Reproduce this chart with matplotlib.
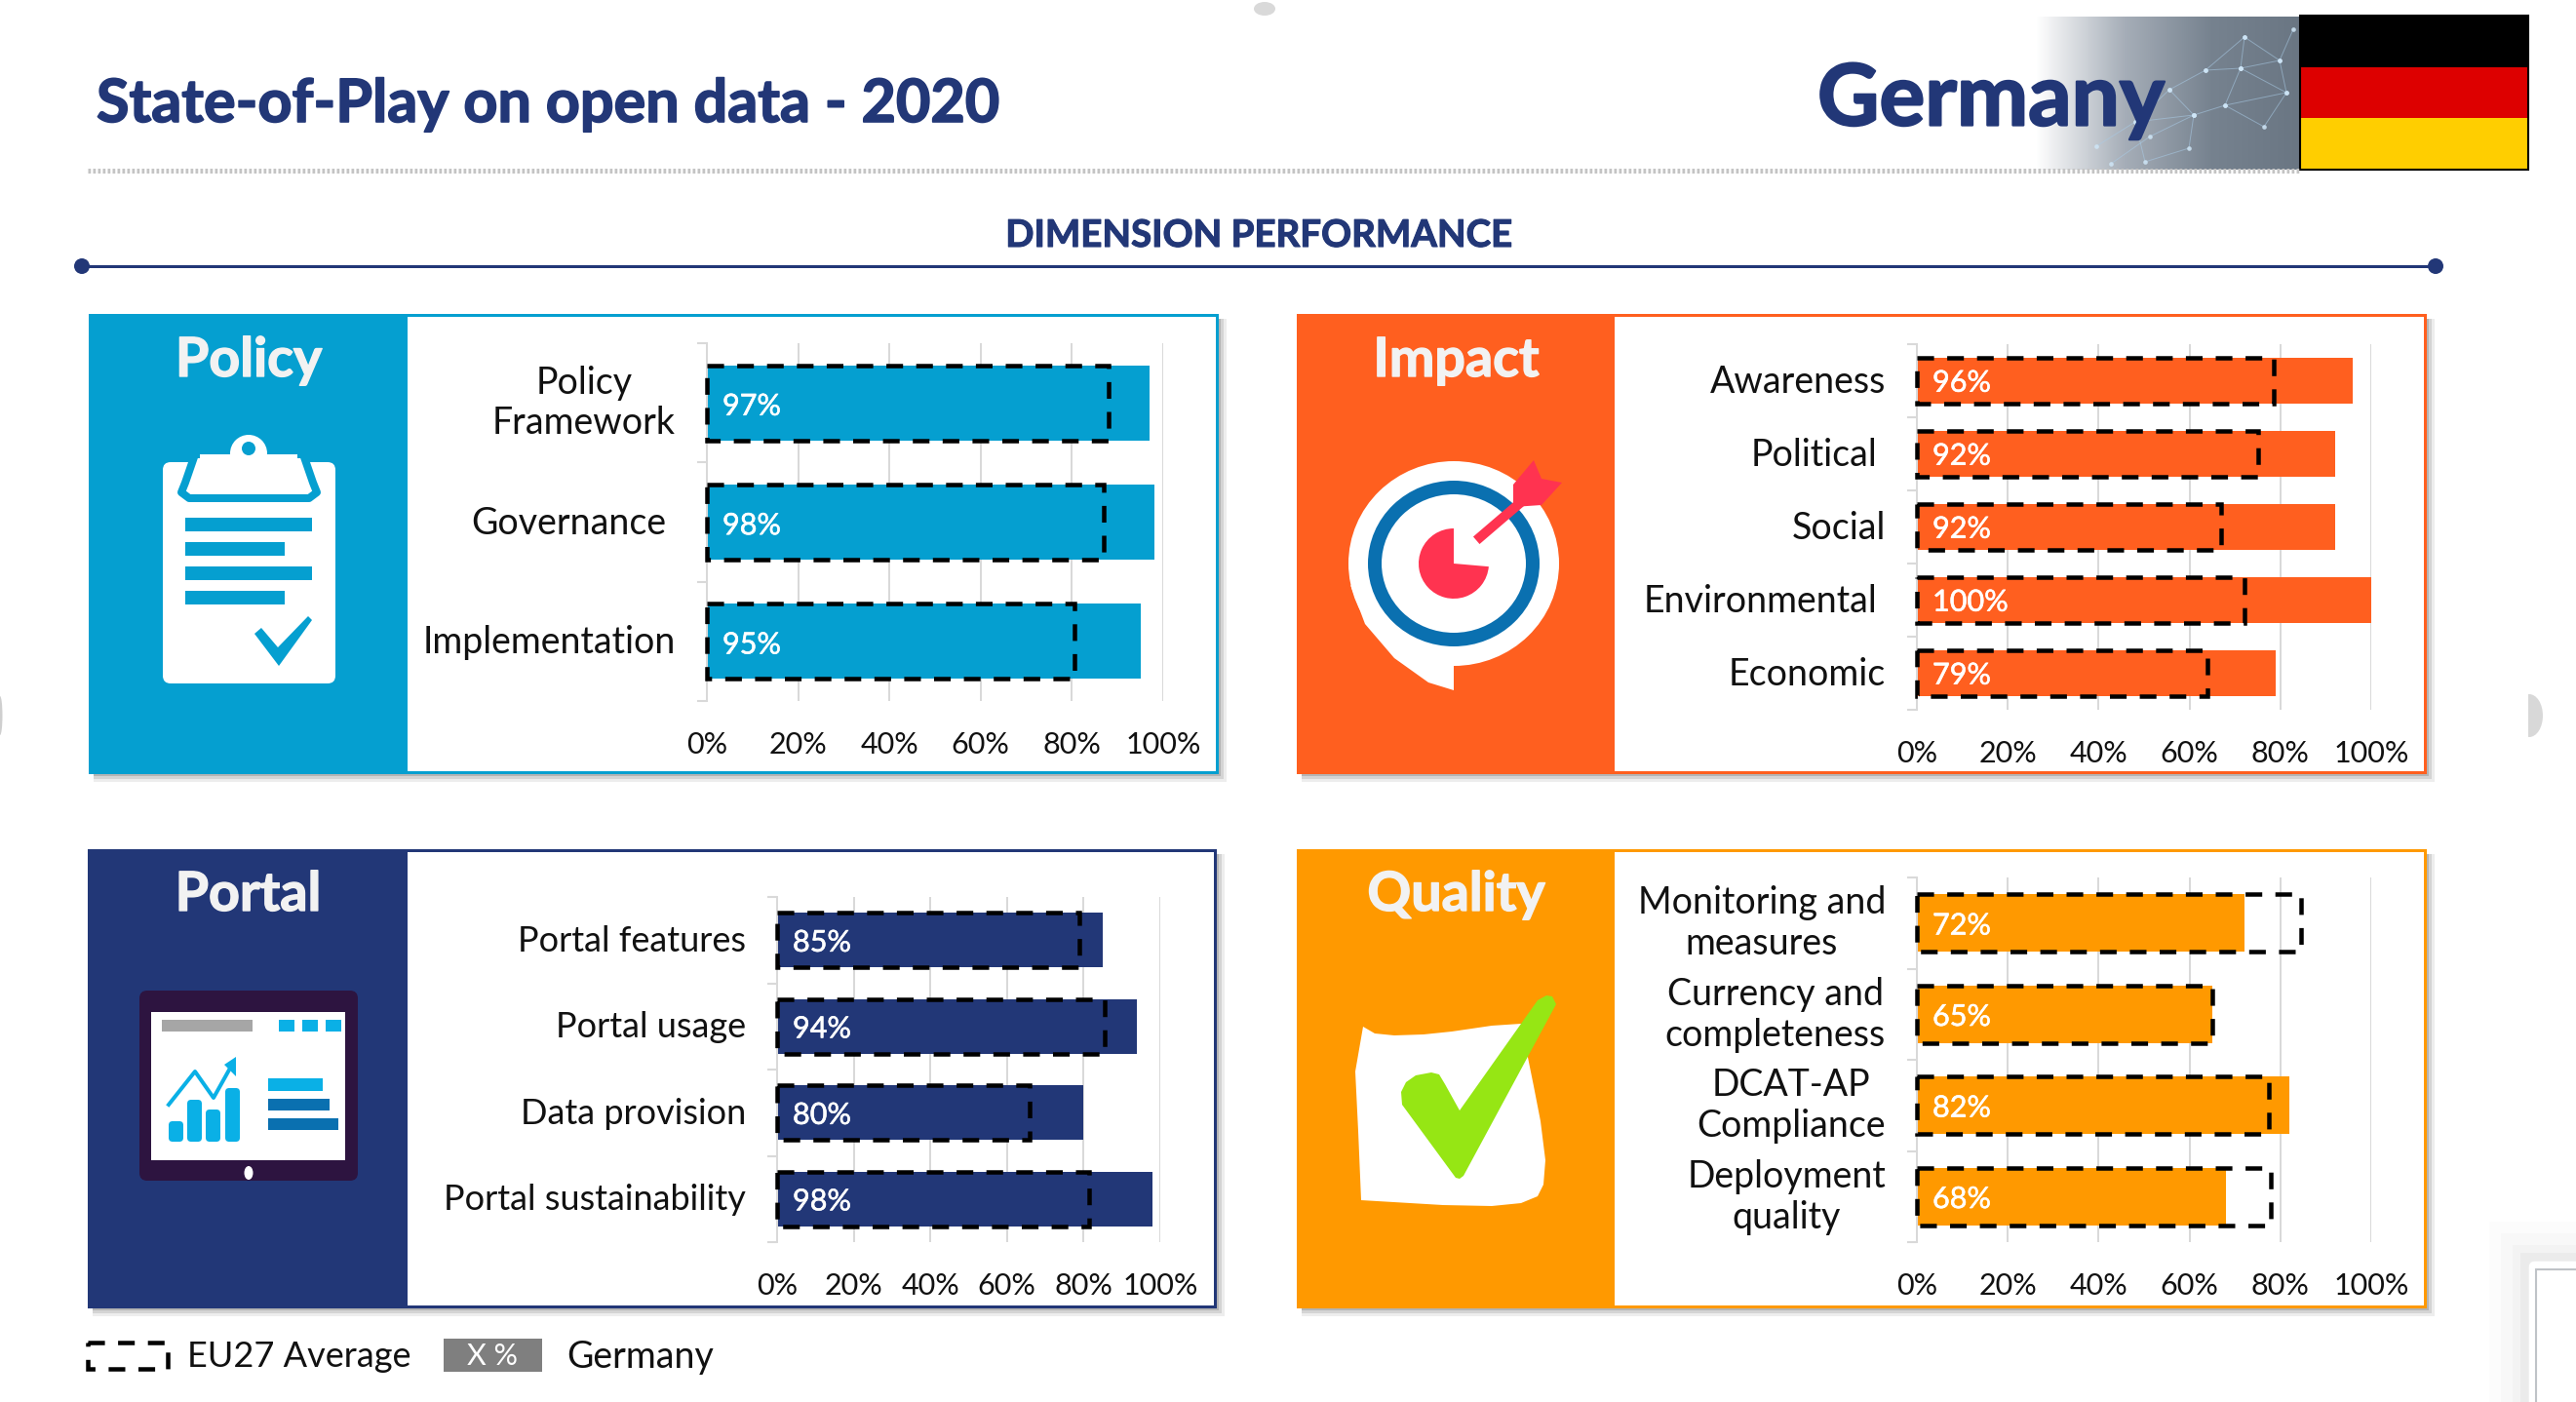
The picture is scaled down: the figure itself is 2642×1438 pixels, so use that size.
import numpy as np
import matplotlib
matplotlib.use('Agg')
import matplotlib.pyplot as plt
import matplotlib.patheffects as pe
from matplotlib.colors import LinearSegmentedColormap
from matplotlib.patches import Rectangle, Polygon, Circle, Ellipse, Wedge, FancyBboxPatch
from matplotlib.transforms import ScaledTranslation

# values in percent
policy_labels = ['Policy\nFramework', 'Governance', 'Implementation']
policy_germany = [97, 98, 95]
policy_eu = [88, 87, 80.5]

impact_labels = ['Awareness', 'Political', 'Social', 'Environmental', 'Economic']
impact_germany = [96, 92, 92, 100, 79]
impact_eu = [78.5, 75, 67, 72, 64]

portal_labels = ['Portal features', 'Portal usage', 'Data provision', 'Portal sustainability']
portal_germany = [85, 94, 80, 98]
portal_eu = [79, 85.5, 66, 81.5]

quality_labels = ['Monitoring and\nmeasures', 'Currency and\ncompleteness', 'DCAT-AP\nCompliance', 'Deployment\nquality']
quality_germany = [72, 65, 82, 68]
quality_eu = [84.5, 65, 77.5, 78]

pct_ticks = [0, 20, 40, 60, 80, 100]

W, H = 2642, 1438
NAVY = '#223777'
LABEL_FONT = 'Lato'
NUM_FONT = 'Lato'
DASH = (0, (3.8, 3.0))


def px(n):
    # pixels to points at dpi 100
    return n * 0.72


def heavy(color, width=1.2):
    # Lato bold is a bit thin next to the slide's font
    return [pe.withStroke(linewidth=width, foreground=color)]


fig = plt.figure(figsize=(W / 100, H / 100), dpi=100)

# full-page axes in pixel coordinates for the slide furniture
page = fig.add_axes([0, 0, 1, 1])
page.set_xlim(0, W)
page.set_ylim(H, 0)
page.axis('off')

# header
page.text(99, 107, 'State-of-Play on open data - 2020', color=NAVY, fontsize=44, fontweight='bold',
          family=LABEL_FONT, va='center', ha='left', path_effects=heavy(NAVY))
cmap = LinearSegmentedColormap.from_list('fade', ['#ffffff', '#a6aeb8', '#76828f', '#6a7683'])
page.imshow(np.linspace(0, 1, 256).reshape(1, -1), cmap=cmap, extent=(2088, 2359, 174, 17),
            aspect='auto', zorder=1)
page.set_xlim(0, W)
page.set_ylim(H, 0)
net_a = [(2150, 150), (2190, 125), (2225, 92), (2262, 72), (2302, 38), (2338, 62), (2352, 30)]
net_b = [(2165, 168), (2205, 140), (2250, 118), (2282, 108), (2322, 130), (2345, 95), (2298, 70), (2262, 72)]
net_c = [(2225, 92), (2250, 118), (2245, 152), (2200, 166), (2190, 125), (2250, 118)]
net_d = [(2302, 38), (2298, 70), (2338, 62), (2345, 95), (2282, 108), (2298, 70)]
for net in [net_a, net_b, net_c, net_d]:
    xs, ys = zip(*net)
    page.plot(xs, ys, color='#a9cbe6', lw=0.7, alpha=0.55, zorder=1.5)
    page.scatter(xs, ys, s=11, color='#cfe6f7', alpha=0.85, linewidths=0, zorder=1.5)
page.text(1864, 103, 'Germany', color=NAVY, fontsize=63, fontweight='bold', family=LABEL_FONT,
          va='center', ha='left', zorder=3, path_effects=heavy(NAVY, 1.6))

page.add_patch(Rectangle((2359, 16), 234, 53, fc='black', ec='none', zorder=2))
page.add_patch(Rectangle((2359, 69), 234, 52, fc='#DD0000', ec='none', zorder=2))
page.add_patch(Rectangle((2359, 121), 234, 53, fc='#FFCE00', ec='none', zorder=2))
page.add_patch(Rectangle((2359, 16), 234, 158, fc='none', ec='black', lw=1.5, zorder=2))

page.plot([90, 2359], [175, 175], color='#c4c4c4', lw=px(5), ls=(0, (0.55, 0.45)), zorder=2)

page.text(1292, 242, 'DIMENSION PERFORMANCE', color=NAVY, fontsize=27.7, fontweight='bold',
          family=LABEL_FONT, va='center', ha='center', path_effects=heavy(NAVY, 0.8))
page.plot([84, 2498], [273, 273], color=NAVY, lw=px(3))
page.add_patch(Circle((84, 273), 8, fc=NAVY, ec='none'))
page.add_patch(Circle((2498, 273), 8, fc=NAVY, ec='none'))

# bits of the screenshot around the slide
page.add_patch(Ellipse((1297, 9), 22, 14, fc='#c9c9c9', ec='none', alpha=0.7))
page.add_patch(Ellipse((2594, 734), 28, 44, fc='#cfcfcf', ec='none', alpha=0.8))
page.add_patch(Rectangle((2570, 700), 23, 70, fc='white', ec='none'))
page.add_patch(Ellipse((0, 734), 5, 40, fc='#bbbbbb', ec='none', alpha=0.7))
for grow, alpha in zip([40, 28, 16, 8], [0.012, 0.015, 0.02, 0.03]):
    page.add_patch(Rectangle((2593 - grow, 1293 - grow), 100, 200, fc='black', ec='none', alpha=alpha))
page.add_patch(FancyBboxPatch((2593, 1293), 80, 200, boxstyle='round,pad=0,rounding_size=7',
                              fc='white', ec='#ececec', lw=1))
page.add_patch(Rectangle((2601, 1302), 60, 200, fc='white', ec='#bfc3c7', lw=1.5))


def draw_panel(left, top, right, bottom, split, color, title, title_y):
    # soft shadow under the card
    for grow, alpha in zip([10, 7, 4], [0.10, 0.16, 0.25]):
        page.add_patch(Rectangle((left + 4, top + 4), right - left + grow - 4, bottom - top + grow - 4,
                                 fc='#555555', ec='none', alpha=alpha))
    page.add_patch(Rectangle((left, top), right - left, bottom - top, fc='white', ec=color, lw=px(3)))
    page.add_patch(Rectangle((left, top), split - left, bottom - top, fc=color, ec='none'))
    page.text((left + split) / 2, title_y, title, color='#f2f2f2', fontsize=40, fontweight='bold',
              family=LABEL_FONT, ha='center', va='center', path_effects=heavy('#f2f2f2', 1.0))


def draw_chart(rect, labels, germany, eu, color, nudges, label_size=27):
    l, t, r, b = rect
    ax = fig.add_axes([l / W, 1 - b / H, (r - l) / W, (b - t) / H])
    ax.patch.set_alpha(0)
    ypos = np.arange(len(labels))
    ax.barh(ypos, germany, height=0.63, color=color, zorder=2)
    ax.barh(ypos, eu, height=0.63, fill=False, edgecolor='black', lw=px(4.5),
            ls=DASH, zorder=3, clip_on=False)
    text_x = 16 / (r - l) * 100  # labels start 16 px inside the bar
    for y, v in zip(ypos, germany):
        ax.text(text_x, y + 0.03, f'{v}%', color='white', fontsize=22, family=NUM_FONT, va='center', ha='left',
                zorder=4, path_effects=heavy('white', 0.4))
    ax.set_xlim(0, 100)
    ax.set_ylim(len(labels) - 0.5, -0.5)
    ax.set_xticks(pct_ticks)
    ax.set_xticklabels([f'{p}%' for p in pct_ticks], fontsize=22, family=NUM_FONT, color='#111111')
    ax.set_yticks(ypos)
    ax.set_yticklabels(labels, fontsize=label_size, family=LABEL_FONT, color='#111111', ma='center', linespacing=1.2)
    ax.set_yticks(np.arange(len(labels) + 1) - 0.5, minor=True)
    ax.tick_params(axis='x', length=0, pad=px(31))
    ax.tick_params(axis='y', which='major', length=0, pad=px(32))
    ax.tick_params(axis='y', which='minor', length=px(10), color='#d9d9d9', width=1.5)
    ax.grid(True, axis='x', color='#d9d9d9', lw=px(2), zorder=0)
    for side in ['top', 'right', 'bottom']:
        ax.spines[side].set_visible(False)
    ax.spines['left'].set_color('#d9d9d9')
    ax.spines['left'].set_linewidth(px(2))
    # a few labels sit further left on the slide, two-line ones sit higher
    for lab, n in zip(ax.get_yticklabels(), nudges):
        up = 6 if '\n' in lab.get_text() else 2
        lab.set_transform(lab.get_transform() + ScaledTranslation(-n / 100, up / 100, fig.dpi_scale_trans))
    return ax


# cards
draw_panel(92, 323, 1248, 792, 418, '#059FD0', 'Policy', 370)
draw_panel(1331, 323, 2487, 792, 1656, '#FF5F1F', 'Impact', 370)
draw_panel(91, 872, 1246, 1340, 418, NAVY, 'Portal', 918)
draw_panel(1331, 872, 2487, 1340, 1656, '#FF9900', 'Quality', 918)

draw_chart((725, 352, 1193, 719), policy_labels, policy_germany, policy_eu, '#059FD0', [0, 10, 0])
draw_chart((1966, 353, 2432, 728), impact_labels, impact_germany, impact_eu, '#FF5F1F', [0, 9, 0, 9, 0])
draw_chart((797, 920, 1190, 1274), portal_labels, portal_germany, portal_eu, NAVY, [0, 0, 0, 0], label_size=26)
draw_chart((1966, 900, 2432, 1274), quality_labels, quality_germany, quality_eu, '#FF9900', [0, 0, 0, 0])

# policy icon: clipboard
BLUE = '#059FD0'
page.add_patch(FancyBboxPatch((167, 474), 177, 227, boxstyle='round,pad=0,rounding_size=8', fc='white', ec='none'))
page.add_patch(Polygon([(200, 466), (190, 495), (186, 505), (194, 511), (317, 511), (325, 505), (321, 495), (311, 466)],
                       closed=True, fc='white', ec=BLUE, lw=px(8), joinstyle='round'))
page.add_patch(Circle((255, 465), 19, fc='white', ec='none'))
page.add_patch(Rectangle((205, 466), 100, 10, fc='white', ec='none'))
page.add_patch(Circle((255, 460), 7, fc=BLUE, ec='none'))
for y, x1 in zip([531, 556, 581, 606], [320, 292, 320, 292]):
    page.add_patch(Rectangle((190, y), x1 - 190, 14, fc=BLUE, ec='none'))
page.add_patch(Polygon([(261, 650), (268, 644), (285, 664), (316, 632), (320, 636), (286, 683)],
                       closed=True, fc=BLUE, ec='none'))

# impact icon: target in speech bubble
page.add_patch(Ellipse((1491, 578), 216, 210, fc='white', ec='none'))
page.add_patch(Polygon([(1385, 600), (1400, 640), (1430, 675), (1465, 700), (1491, 708), (1491, 670)],
                       closed=True, fc='white', ec='none'))
page.add_patch(Ellipse((1491, 578), 162, 156, fc='none', ec='#0A70B0', lw=px(14)))
page.add_patch(Wedge((1491, 578), 36, 5, 270, fc='#FF3350', ec='none'))
page.plot([1518, 1560], [551, 515], color='#FF3350', lw=px(10))
page.add_patch(Polygon([(1573, 472), (1581, 491), (1602, 495), (1581, 518), (1552, 520), (1552, 497)],
                       closed=True, fc='#FF3350', ec='none'))

# portal icon: tablet with charts
page.add_patch(FancyBboxPatch((143, 1016), 224, 195, boxstyle='round,pad=0,rounding_size=8', fc='#2D1440', ec='none'))
page.add_patch(Rectangle((155, 1038), 199, 152, fc='white', ec='none'))
page.add_patch(Rectangle((166, 1046), 93, 12, fc='#A6A6A6', ec='none'))
for x in [286, 310, 334]:
    page.add_patch(Rectangle((x, 1046), 16, 12, fc='#0AB0E6', ec='none'))
for x, y in zip([173, 192, 211, 231], [1150, 1128, 1138, 1116]):
    page.add_patch(FancyBboxPatch((x, y), 15, 1171 - y, boxstyle='round,pad=0,rounding_size=4', fc='#0AB0E6', ec='none'))
page.plot([173, 200, 219, 238], [1133, 1099, 1126, 1092], color='#0AB0E6', lw=px(4))
page.add_patch(Polygon([(242, 1084), (230, 1092), (242, 1104)], closed=True, fc='#0AB0E6', ec='none'))
page.add_patch(Rectangle((275, 1106), 56, 13, fc='#0AB0E6', ec='none'))
page.add_patch(Rectangle((275, 1127), 63, 12, fc='#0A70B0', ec='none'))
page.add_patch(Rectangle((275, 1147), 72, 12, fc='#0A70B0', ec='none'))
page.add_patch(Ellipse((255, 1203), 9, 14, fc='white', ec='none'))

# quality icon: sheet and check mark
page.add_patch(Polygon([(1398, 1053), (1410, 1060), (1430, 1062), (1460, 1061), (1489, 1058), (1530, 1052), (1560, 1050),
                        (1573, 1114), (1580, 1150), (1585, 1190), (1583, 1215), (1577, 1227), (1560, 1234), (1530, 1237),
                        (1480, 1236), (1396, 1231), (1393, 1160), (1390, 1099)],
                       closed=True, fc='white', ec='none'))
page.add_patch(Polygon([(1586, 1021), (1592, 1022), (1596, 1030), (1501, 1206), (1497, 1209), (1493, 1208), (1438, 1133),
                        (1437, 1120), (1442, 1110), (1452, 1103), (1468, 1100), (1476, 1102), (1482, 1112), (1497, 1139),
                        (1577, 1026)],
                       closed=True, fc='#96E614', ec='none'))

# legend
page.add_patch(Rectangle((90, 1377), 82, 27, fc='none', ec='black', lw=px(4.5), ls=DASH))
page.text(192, 1392, 'EU27 Average', fontsize=26, family=LABEL_FONT, color='#111111', va='center')
page.add_patch(Rectangle((455, 1373), 101, 34, fc='#7F7F7F', ec='none'))
page.text(505, 1391, 'X %', fontsize=22, family=NUM_FONT, color='white', va='center', ha='center')
page.text(581, 1392, 'Germany', fontsize=27, family=LABEL_FONT, color='#111111', va='center')

fig.savefig('out.png', dpi=100)
